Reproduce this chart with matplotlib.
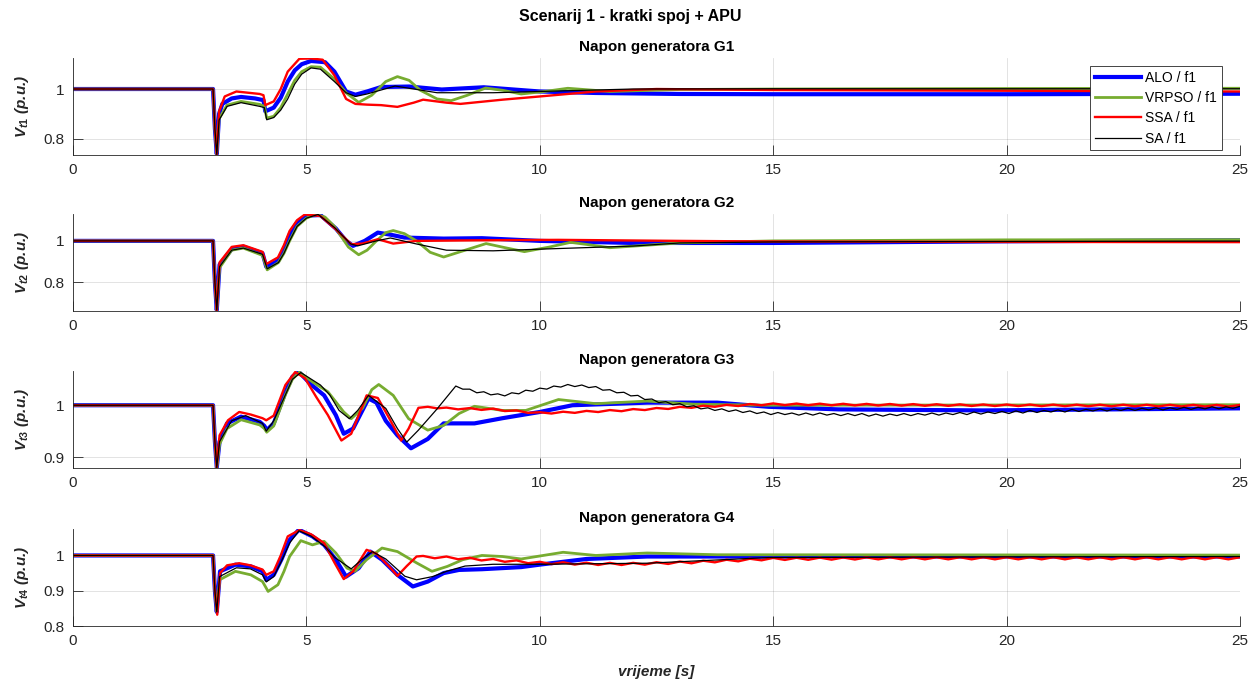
import numpy as np
import matplotlib
matplotlib.use("Agg")
import matplotlib.pyplot as plt
from matplotlib.ticker import FormatStrFormatter

plt.rcParams['font.family'] = ['Liberation Sans', 'DejaVu Sans']
plt.rcParams['mathtext.fontset'] = 'custom'
plt.rcParams['mathtext.it'] = 'Liberation Sans:bold:italic'
plt.rcParams['mathtext.rm'] = 'Liberation Sans:bold'
plt.rcParams['mathtext.bf'] = 'Liberation Sans:bold'
plt.rcParams['mathtext.default'] = 'it'

# ---------------- text ----------------
suptitle = 'Scenarij 1 - kratki spoj + APU'
panel_titles = ['Napon generatora G1', 'Napon generatora G2',
                'Napon generatora G3', 'Napon generatora G4']
y_labels = ['V$_{t1}$ (p.u.)', 'V$_{t2}$ (p.u.)', 'V$_{t3}$ (p.u.)', 'V$_{t4}$ (p.u.)']
x_label = 'vrijeme [s]'
series_names = ['ALO / f1', 'VRPSO / f1', 'SSA / f1', 'SA / f1']
x_ticks = [0, 5, 10, 15, 20, 25]
y_ticks = [[0.8, 1.0], [0.8, 1.0], [0.9, 1.0], [0.8, 0.9, 1.0]]
y_limits = [(0.734, 1.125), (0.661, 1.13), (0.879, 1.066), (0.801, 1.075)]

# ---------------- data: (time s, voltage p.u.) ----------------
g1_alo = [(0, 1.0), (3.0, 1.0), (3.04, 0.84), (3.08, 0.738), (3.13, 0.90), (3.2, 0.94), (3.4, 0.962),
          (3.6, 0.968), (3.9, 0.962), (4.08, 0.955), (4.12, 0.91), (4.3, 0.925), (4.45, 0.965),
          (4.6, 1.03), (4.75, 1.075), (4.9, 1.10), (5.1, 1.113), (5.4, 1.108), (5.6, 1.07),
          (5.85, 0.99), (6.05, 0.977), (6.3, 0.99), (6.6, 1.008), (7.2, 1.01), (7.9, 0.998),
          (8.8, 1.007), (10.0, 0.99), (11.2, 0.984), (13.0, 0.98), (15.0, 0.979), (20.0, 0.979),
          (25.0, 0.981)]
g1_vrpso = [(0, 1.0), (3.0, 1.0), (3.04, 0.84), (3.08, 0.738), (3.13, 0.88), (3.3, 0.935), (3.6, 0.95),
            (4.0, 0.938), (4.1, 0.93), (4.15, 0.883), (4.3, 0.89), (4.45, 0.925), (4.6, 0.98),
            (4.75, 1.035), (4.9, 1.07), (5.1, 1.09), (5.3, 1.088), (5.6, 1.04), (5.85, 0.985),
            (6.12, 0.946), (6.4, 0.975), (6.7, 1.03), (6.95, 1.05), (7.2, 1.035), (7.44, 0.995),
            (7.8, 0.96), (8.1, 0.953), (8.45, 0.975), (8.84, 1.004), (9.2, 0.995), (9.6, 0.98),
            (10.1, 0.99), (10.6, 1.003), (11.5, 0.99), (13.0, 0.998), (15.0, 1.0), (20.0, 1.002),
            (25.0, 1.003)]
g1_ssa = [(0, 1.0), (3.0, 1.0), (3.04, 0.84), (3.08, 0.736), (3.13, 0.91), (3.25, 0.97), (3.5, 0.99),
          (4.0, 0.98), (4.08, 0.975), (4.12, 0.935), (4.3, 0.95), (4.45, 1.0), (4.6, 1.07),
          (4.85, 1.122), (5.1, 1.123), (5.35, 1.118), (5.6, 1.055), (5.85, 0.96), (6.05, 0.94),
          (6.3, 0.937), (6.6, 0.935), (6.95, 0.928), (7.3, 0.945), (7.5, 0.957), (8.0, 0.945),
          (8.3, 0.94), (9.2, 0.957), (10.0, 0.97), (11.2, 0.99), (12.5, 1.0), (15.0, 0.996),
          (20.0, 0.993), (25.0, 0.99)]
g1_sa = [(0, 1.0), (3.0, 1.0), (3.04, 0.84), (3.08, 0.736), (3.13, 0.875), (3.3, 0.93), (3.6, 0.945),
         (4.0, 0.93), (4.1, 0.925), (4.15, 0.876), (4.3, 0.885), (4.45, 0.915), (4.6, 0.96),
         (4.75, 1.02), (4.9, 1.06), (5.1, 1.085), (5.3, 1.08), (5.6, 1.03), (5.85, 0.985),
         (6.05, 0.97), (6.3, 0.98), (6.9, 1.012), (7.3, 1.0), (7.8, 0.985), (9.0, 0.985),
         (10.0, 0.99), (12.0, 1.0), (15.0, 1.001), (25.0, 1.001)]

g2_alo = [(0, 1.0), (3.0, 1.0), (3.04, 0.8), (3.08, 0.665), (3.14, 0.885), (3.4, 0.96), (3.65, 0.972),
          (4.06, 0.94), (4.14, 0.875), (4.4, 0.905), (4.52, 0.96), (4.64, 1.03), (4.8, 1.09),
          (5.0, 1.122), (5.3, 1.125), (5.63, 1.06), (5.85, 1.0), (6.0, 0.976), (6.25, 1.0),
          (6.53, 1.04), (6.8, 1.03), (7.1, 1.016), (7.94, 1.011), (8.76, 1.013), (10.0, 1.0),
          (12.0, 0.99), (15.0, 0.99), (20.0, 0.998), (25.0, 1.003)]
g2_vrpso = [(0, 1.0), (3.0, 1.0), (3.04, 0.8), (3.08, 0.665), (3.14, 0.87), (3.4, 0.955), (3.65, 0.965),
            (4.06, 0.93), (4.16, 0.86), (4.4, 0.895), (4.52, 0.94), (4.64, 1.0), (4.8, 1.07),
            (5.0, 1.11), (5.2, 1.128), (5.4, 1.115), (5.6, 1.07), (5.9, 0.97), (6.12, 0.933),
            (6.3, 0.955), (6.5, 1.0), (6.7, 1.04), (6.86, 1.05), (7.1, 1.035), (7.36, 1.0),
            (7.65, 0.945), (7.94, 0.922), (8.4, 0.955), (8.85, 0.987), (9.3, 0.965), (9.67, 0.948),
            (10.2, 0.97), (10.66, 0.993), (11.1, 0.98), (11.5, 0.967), (13.0, 0.99), (15.0, 1.0),
            (20.0, 1.005), (25.0, 1.006)]
g2_ssa = [(0, 1.0), (3.0, 1.0), (3.04, 0.8), (3.08, 0.662), (3.14, 0.896), (3.4, 0.971), (3.65, 0.979),
          (4.06, 0.947), (4.14, 0.888), (4.39, 0.92), (4.52, 0.98), (4.64, 1.048), (4.8, 1.1),
          (4.97, 1.128), (5.3, 1.12), (5.63, 1.056), (5.96, 0.984), (6.2, 0.987), (6.53, 1.008),
          (6.86, 0.987), (7.36, 1.0), (8.76, 1.003), (10.4, 1.005), (13.0, 1.0), (15.0, 0.997),
          (20.0, 0.995), (25.0, 0.994)]
g2_sa = [(0, 1.0), (3.0, 1.0), (3.04, 0.8), (3.08, 0.665), (3.14, 0.875), (3.4, 0.955), (3.65, 0.965),
         (4.06, 0.935), (4.16, 0.865), (4.4, 0.895), (4.52, 0.94), (4.64, 1.0), (4.8, 1.07),
         (5.0, 1.11), (5.25, 1.128), (5.6, 1.065), (5.95, 0.985), (6.1, 0.976), (6.5, 1.0),
         (6.8, 1.014), (7.36, 0.985), (8.0, 0.955), (9.0, 0.952), (10.0, 0.96), (12.0, 0.975),
         (13.0, 0.99), (15.0, 0.995), (25.0, 0.999)]

g3_alo = [(0, 1.0), (3.0, 1.0), (3.04, 0.93), (3.08, 0.88), (3.14, 0.93), (3.3, 0.965), (3.6, 0.978),
          (4.0, 0.968), (4.1, 0.96), (4.15, 0.952), (4.3, 0.965), (4.55, 1.025), (4.7, 1.055),
          (4.84, 1.064), (5.1, 1.04), (5.38, 1.019), (5.63, 0.981), (5.8, 0.945), (6.0, 0.955),
          (6.33, 1.013), (6.5, 1.005), (6.7, 0.97), (6.95, 0.942), (7.24, 0.917), (7.6, 0.935),
          (7.94, 0.965), (8.6, 0.965), (9.2, 0.975), (10.0, 0.987), (10.7, 1.0), (12.3, 1.005),
          (13.8, 1.005), (14.9, 0.997), (16.4, 0.992), (19.5, 0.99), (25.0, 0.994)]
g3_vrpso = [(0, 1.0), (3.0, 1.0), (3.04, 0.93), (3.08, 0.88), (3.14, 0.925), (3.3, 0.955), (3.6, 0.972),
            (4.0, 0.962), (4.1, 0.955), (4.15, 0.948), (4.3, 0.96), (4.55, 1.02), (4.7, 1.05),
            (4.85, 1.064), (5.13, 1.045), (5.46, 1.026), (5.8, 0.987), (5.96, 0.974), (6.2, 0.994),
            (6.4, 1.03), (6.55, 1.04), (6.86, 1.019), (7.19, 0.974), (7.6, 0.952), (7.94, 0.961),
            (8.27, 0.984), (8.6, 0.998), (9.2, 0.99), (9.7, 0.99), (10.4, 1.011), (11.2, 1.003),
            (12.3, 1.008), (13.3, 1.002), (14.9, 1.0), (25.0, 1.001)]
g3_ssa = [(0, 1.0), (3.0, 1.0), (3.04, 0.93), (3.08, 0.88), (3.14, 0.942), (3.32, 0.971), (3.56, 0.987),
          (3.81, 0.982), (4.06, 0.975), (4.14, 0.971), (4.3, 0.98), (4.55, 1.039), (4.76, 1.064),
          (4.97, 1.052), (5.21, 1.016), (5.46, 0.981), (5.75, 0.932), (5.96, 0.945), (6.29, 1.019),
          (6.53, 1.014), (6.78, 0.974), (7.03, 0.932), (7.19, 0.955), (7.4, 0.995), (7.6, 0.997),
          (7.8, 0.994)]
# SSA G3 small oscillation, samples every 0.25 s from 8.0 s to 25.0 s
g3_ssa_tail_span = (8.0, 25.0)
g3_ssa_tail = [0.9955, 0.992, 0.9945, 0.991, 0.9935, 0.9888, 0.990, 0.9853, 0.9865, 0.984,
               0.9875, 0.9853, 0.9891, 0.9869, 0.9907, 0.9885, 0.9926, 0.9907, 0.9947, 0.9928,
               0.9969, 0.995, 0.9991, 0.997, 1.0007, 0.9985, 1.0023, 1.0, 1.0035, 1.0003,
               1.0032, 1.0001, 1.003, 0.9999, 1.0028, 0.9997, 1.0026, 0.9995, 1.0024, 0.9993,
               1.0022, 0.999, 1.0019, 0.9988, 1.0017, 0.9986, 1.0015, 0.9985, 1.0014, 0.9984,
               1.0013, 0.9983, 1.0012, 0.9982, 1.0011, 0.9981, 1.001, 0.998, 1.001, 0.9979,
               1.0009, 0.9978, 1.0008, 0.9977, 1.0007, 0.9976, 1.0006, 0.9975, 1.0005]
g3_sa = [(0, 1.0), (3.0, 1.0), (3.04, 0.93), (3.08, 0.88), (3.14, 0.93), (3.4, 0.97), (3.7, 0.98),
         (4.06, 0.965), (4.14, 0.95), (4.3, 0.97), (4.55, 1.02), (4.7, 1.05), (4.88, 1.063),
         (5.3, 1.039), (5.5, 1.02), (5.7, 0.99), (5.92, 0.974), (6.1, 0.99), (6.33, 1.019),
         (6.7, 0.994), (6.95, 0.955), (7.15, 0.929), (7.4, 0.952), (7.8, 0.993)]
# SA G3 ripple, samples every 0.15 s from 8.2 s to 25.0 s
g3_sa_tail_span = (8.2, 25.0)
g3_sa_tail = [1.037, 1.031, 1.031, 1.024, 1.026, 1.020, 1.022, 1.018, 1.024, 1.022,
              1.029, 1.027, 1.033, 1.031, 1.037, 1.035, 1.040, 1.036, 1.039, 1.034,
              1.036, 1.029, 1.030, 1.024, 1.025, 1.018, 1.019, 1.011, 1.012, 1.005,
              1.007, 1.001, 1.003, 0.997, 0.999, 0.993, 0.995, 0.990, 0.993, 0.988,
              0.991, 0.986, 0.989, 0.984, 0.987, 0.982, 0.986, 0.982, 0.985, 0.981,
              0.985, 0.981, 0.985, 0.981, 0.984, 0.980, 0.984, 0.980, 0.984, 0.979,
              0.983, 0.979, 0.983, 0.980, 0.984, 0.980, 0.984, 0.981, 0.985, 0.981,
              0.985, 0.982, 0.986, 0.982, 0.987, 0.983, 0.987, 0.984, 0.988, 0.984,
              0.989, 0.985, 0.990, 0.986, 0.990, 0.987, 0.991, 0.987, 0.992, 0.988,
              0.992, 0.989, 0.993, 0.989, 0.993, 0.990, 0.994, 0.990, 0.994, 0.991,
              0.995, 0.991, 0.995, 0.992, 0.996, 0.992, 0.996, 0.993, 0.997, 0.993,
              0.997, 0.994, 0.998]

g4_alo = [(0, 1.0), (3.0, 1.0), (3.04, 0.9), (3.08, 0.84), (3.15, 0.955), (3.48, 0.974), (3.81, 0.969),
          (4.06, 0.955), (4.14, 0.931), (4.3, 0.945), (4.47, 0.99), (4.64, 1.044), (4.84, 1.073),
          (5.13, 1.054), (5.38, 1.03), (5.63, 0.988), (5.85, 0.94), (6.12, 0.964), (6.37, 1.011),
          (6.62, 0.988), (6.95, 0.945), (7.28, 0.912), (7.6, 0.926), (7.94, 0.95), (8.27, 0.959),
          (8.76, 0.961), (9.6, 0.967), (10.0, 0.974), (11.0, 0.99), (12.3, 0.997), (15.0, 0.997),
          (20.0, 0.997), (25.0, 0.997)]
g4_vrpso = [(0, 1.0), (3.0, 1.0), (3.04, 0.9), (3.08, 0.84), (3.14, 0.931), (3.48, 0.955), (3.81, 0.945),
            (4.06, 0.926), (4.18, 0.898), (4.39, 0.917), (4.52, 0.955), (4.64, 0.997), (4.88, 1.042),
            (5.13, 1.03), (5.38, 1.04), (5.63, 1.007), (5.87, 0.964), (6.04, 0.955), (6.29, 0.988),
            (6.62, 1.021), (6.95, 1.011), (7.36, 0.979), (7.69, 0.955), (8.02, 0.969), (8.35, 0.988),
            (8.76, 1.0), (9.2, 0.997), (9.6, 0.99), (10.5, 1.009), (11.2, 1.0), (12.3, 1.007),
            (13.8, 1.002), (25.0, 1.001)]
g4_ssa = [(0, 1.0), (3.0, 1.0), (3.04, 0.9), (3.09, 0.832), (3.15, 0.95), (3.3, 0.972), (3.56, 0.978),
          (3.8, 0.972), (4.06, 0.96), (4.14, 0.945), (4.3, 0.955), (4.45, 1.0), (4.6, 1.054),
          (4.85, 1.072), (5.1, 1.06), (5.38, 1.035), (5.6, 0.98), (5.8, 0.933), (6.0, 0.955),
          (6.29, 1.016), (6.5, 1.005), (6.8, 0.965), (6.95, 0.942), (7.15, 0.97), (7.36, 0.997)]
# SSA G4 oscillation, samples every 0.25 s from 7.5 s to 25.0 s
g4_ssa_tail_span = (7.5, 25.0)
g4_ssa_tail = [0.9987, 0.992, 0.997, 0.9893, 0.9935, 0.9858, 0.990, 0.982, 0.986, 0.978,
               0.982, 0.9754, 0.9808, 0.9741, 0.9795, 0.973, 0.979, 0.973, 0.979, 0.974,
               0.9809, 0.9759, 0.9828, 0.9778, 0.9851, 0.9805, 0.9879, 0.9833, 0.9907, 0.9862,
               0.9931, 0.9873, 0.9935, 0.9877, 0.9939, 0.9881, 0.9943, 0.9885, 0.9947, 0.9889,
               0.995, 0.989, 0.995, 0.989, 0.995, 0.989, 0.995, 0.989, 0.995, 0.989,
               0.995, 0.989, 0.995, 0.989, 0.995, 0.989, 0.995, 0.989, 0.995, 0.989,
               0.995, 0.989, 0.995, 0.989, 0.995, 0.989, 0.995, 0.989, 0.995, 0.989,
               0.995]
g4_sa = [(0, 1.0), (3.0, 1.0), (3.04, 0.9), (3.08, 0.84), (3.14, 0.94), (3.5, 0.965), (3.8, 0.962),
         (4.06, 0.945), (4.14, 0.925), (4.3, 0.94), (4.47, 0.985), (4.64, 1.035), (4.84, 1.07),
         (5.1, 1.055), (5.4, 1.025), (5.6, 0.995), (5.96, 0.962), (6.2, 0.99), (6.41, 1.011),
         (6.7, 0.99), (7.11, 0.941), (7.36, 0.931), (7.7, 0.94), (8.0, 0.955), (8.4, 0.97),
         (9.0, 0.975), (10.0, 0.975), (12.3, 0.978), (14.9, 0.994), (20.0, 0.996), (25.0, 0.997)]


def series(pairs, tail=None, span=None):
    t = [p[0] for p in pairs]
    v = [p[1] for p in pairs]
    if tail is not None:
        t = t + list(np.linspace(span[0], span[1], len(tail)))
        v = v + list(tail)
    return np.array(t), np.array(v)


panels = [
    [series(g1_alo), series(g1_vrpso), series(g1_ssa), series(g1_sa)],
    [series(g2_alo), series(g2_vrpso), series(g2_ssa), series(g2_sa)],
    [series(g3_alo), series(g3_vrpso), series(g3_ssa, g3_ssa_tail, g3_ssa_tail_span),
     series(g3_sa, g3_sa_tail, g3_sa_tail_span)],
    [series(g4_alo), series(g4_vrpso), series(g4_ssa, g4_ssa_tail, g4_ssa_tail_span), series(g4_sa)],
]

# ---------------- style ----------------
colors = ['#0000ff', '#77ac30', '#ff0000', '#000000']
widths = [3.0, 2.0, 1.7, 0.9]
axis_color = '#262626'

W, H = 1260, 686
fig = plt.figure(figsize=(W / 100, H / 100), dpi=100)
left_px, right_px = 73, 1240
tops_px = [58, 214, 371, 529]
h_px = 97

axes = []
for i in range(4):
    ax = fig.add_axes([left_px / W, 1 - (tops_px[i] + h_px) / H,
                       (right_px - left_px) / W, h_px / H])
    axes.append(ax)
    lines = []
    for (t, v), c, lw in zip(panels[i], colors, widths):
        ln, = ax.plot(t, v, color=c, lw=lw, solid_joinstyle='round')
        lines.append(ln)
    ax.set_xlim(0, 25)
    ax.set_ylim(*y_limits[i])
    ax.set_xticks(x_ticks)
    ax.set_yticks(y_ticks[i])
    ax.yaxis.set_major_formatter(FormatStrFormatter('%g'))
    ax.grid(True, color=axis_color, alpha=0.15, lw=0.6)
    ax.set_axisbelow(True)
    for s in ['top', 'right']:
        ax.spines[s].set_visible(False)
    for s in ['left', 'bottom']:
        ax.spines[s].set_color(axis_color)
        ax.spines[s].set_linewidth(0.6)
    ax.tick_params(direction='in', length=7, width=0.6, color=axis_color,
                   labelsize=11, labelcolor=axis_color, pad=6)
    ax.set_title(panel_titles[i], fontsize=11, fontweight='bold', pad=5)
    yc = 1 - (tops_px[i] + h_px / 2) / H
    fig.text(22 / W, yc, y_labels[i], rotation=90, ha='center', va='center',
             fontsize=11, fontweight='bold', fontstyle='italic', color=axis_color)
    if i == 0:
        leg = ax.legend(lines, series_names, loc='upper right',
                        bbox_to_anchor=((1222 - left_px) / (right_px - left_px), 1 - 8 / h_px),
                        fontsize=10, frameon=True, fancybox=False, edgecolor=axis_color,
                        framealpha=1, handlelength=3.3, borderpad=0.35, labelspacing=0.45,
                        handletextpad=0.35, borderaxespad=0)
        leg.get_frame().set_linewidth(0.6)

fig.text(0.5, 1 - 17 / H, suptitle, ha='center', va='center', fontsize=11.5, fontweight='bold')
fig.text((left_px + right_px) / 2 / W, 1 - 672 / H, x_label, ha='center', va='center',
         fontsize=11, fontweight='bold', fontstyle='italic', color=axis_color)

fig.savefig('out.png', dpi=100)
